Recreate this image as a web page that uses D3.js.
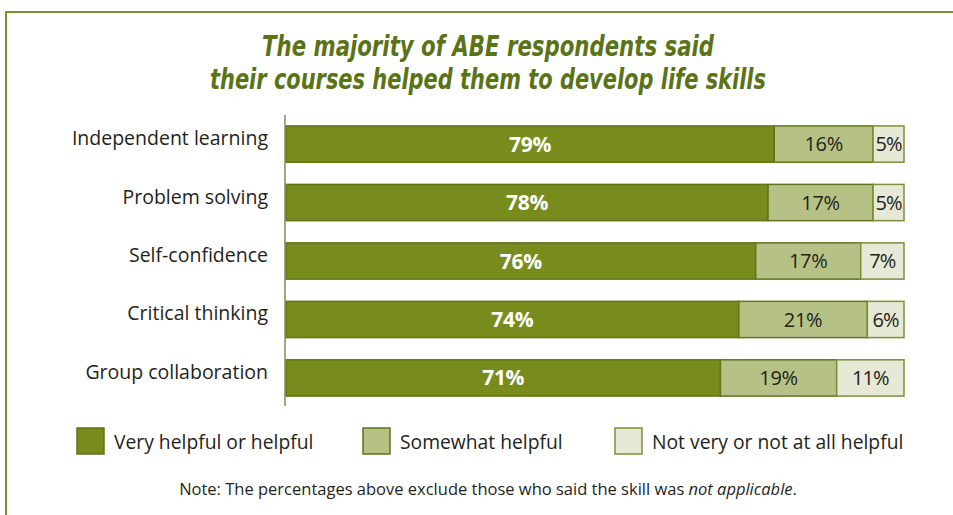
<!DOCTYPE html>
<html>
<head>
<meta charset="utf-8">
<script src="https://cdn.jsdelivr.net/npm/d3@7"></script>
<style>
  html, body { margin: 0; padding: 0; background: #fff; }
  svg { display: block; }
</style>
</head>
<body>
<svg id="chart" width="953" height="515"></svg>
<script>
// Life-skills survey: share of respondents by helpfulness rating
const skills = ["Independent learning", "Problem solving", "Self-confidence", "Critical thinking", "Group collaboration"];
const veryHelpful = [79, 78, 76, 74, 71];
const somewhatHelpful = [16, 17, 17, 21, 19];
const notHelpful = [5, 5, 7, 6, 11];
const seriesNames = ["Very helpful or helpful", "Somewhat helpful", "Not very or not at all helpful"];
const titleLines = ["The majority of ABE respondents said", "their courses helped them to develop life skills"];
const noteText = ["Note: The percentages above exclude those who said the skill was ", "not applicable", "."];

const fills = ["#778c1d", "#b6c285", "#e6e9d5"];
const strokes = ["#62731a", "#62731a", "#7d8f38"];
const labelFill = ["#ffffff", "#231f20", "#231f20"];

const svg = d3.select("#chart");

// Frame (top and left rules)
svg.append("path")
  .attr("d", "M6,515 L6,12 L953,12")
  .attr("fill", "none").attr("stroke", "#7b8c35").attr("stroke-width", 2);

// Title
const title = svg.append("text")
  .attr("text-anchor", "middle")
  .attr("fill", "#5a7316")
  .attr("font-family", "'DejaVu Sans Condensed', 'Liberation Sans Narrow', 'DejaVu Sans', sans-serif")
  .attr("font-style", "italic")
  .attr("font-weight", "bold")
  .attr("font-size", 28);
const titleWidths = [452, 556];
titleLines.forEach((t, i) => {
  title.append("tspan")
    .attr("x", 488).attr("y", 56 + i * 33)
    .attr("textLength", titleWidths[i])
    .attr("lengthAdjust", "spacingAndGlyphs")
    .text(t);
});

// Scales
const x = d3.scaleLinear().domain([0, 100]).range([286, 904]);
const y = d3.scaleBand().domain(skills).range([116, 406]).paddingInner(0.38).paddingOuter(0.17);

// Stack rows, each row scaled to its own total
const rows = skills.map((s, i) => ({ skill: s, v: [veryHelpful[i], somewhatHelpful[i], notHelpful[i]] }));
const segs = [];
rows.forEach(r => {
  const total = d3.sum(r.v);
  let cum = 0;
  r.v.forEach((val, k) => {
    segs.push({ skill: r.skill, k, val, x0: cum / total * 100, x1: (cum + val) / total * 100 });
    cum += val;
  });
});

const g = svg.append("g");
g.selectAll("rect.seg").data(segs).join("rect")
  .attr("class", "seg")
  .attr("x", d => x(d.x0))
  .attr("y", d => y(d.skill))
  .attr("width", d => x(d.x1) - x(d.x0))
  .attr("height", y.bandwidth())
  .attr("fill", d => fills[d.k])
  .attr("stroke", d => strokes[d.k])
  .attr("stroke-width", 1.5);

g.selectAll("text.val").data(segs).join("text")
  .attr("class", "val")
  .attr("x", d => (x(d.x0) + x(d.x1)) / 2)
  .attr("y", d => y(d.skill) + y.bandwidth() / 2)
  .attr("dy", "0.36em")
  .attr("text-anchor", "middle")
  .attr("fill", d => labelFill[d.k])
  .attr("font-family", "'Open Sans', 'Noto Sans', sans-serif")
  .attr("font-weight", d => d.k === 0 ? "bold" : "normal")
  .attr("font-size", d => d.k === 0 ? 21 : 20)
  .attr("letter-spacing", d => d.k === 2 ? -0.9 : -0.3)
  .text(d => d.val + "%");

// Category axis
const yAxis = d3.axisLeft(y).tickSize(0).tickPadding(17);
const ax = svg.append("g").attr("transform", "translate(285,0)").call(yAxis);
ax.select(".domain").attr("d", "M0,115V406").attr("stroke", "#7f8c55").attr("stroke-width", 1.5);
ax.selectAll(".tick text")
  .attr("font-family", "'Open Sans', 'Noto Sans', sans-serif")
  .attr("font-size", 19.5)
  .attr("fill", "#231f20")
  .attr("dy", "0.05em");

// Legend
const legendX = [77, 363, 615];
const lg = svg.append("g").selectAll("g").data(seriesNames).join("g")
  .attr("transform", (d, i) => `translate(${legendX[i]},428)`);
lg.append("rect")
  .attr("width", 27).attr("height", 26)
  .attr("fill", (d, i) => fills[i])
  .attr("stroke", (d, i) => strokes[i])
  .attr("stroke-width", 1.5);
lg.append("text")
  .attr("x", 37).attr("y", 21)
  .attr("font-family", "'Open Sans', 'Noto Sans', sans-serif")
  .attr("font-size", 19.3)
  .attr("fill", "#231f20")
  .text(d => d);

// Note
const note = svg.append("text")
  .attr("x", 488).attr("y", 495)
  .attr("text-anchor", "middle")
  .attr("font-family", "'Open Sans', 'Noto Sans', sans-serif")
  .attr("font-size", 16.5)
  .attr("fill", "#231f20");
noteText.forEach((t, i) => {
  note.append("tspan").attr("font-style", i === 1 ? "italic" : "normal").text(t);
});
</script>
</body>
</html>
